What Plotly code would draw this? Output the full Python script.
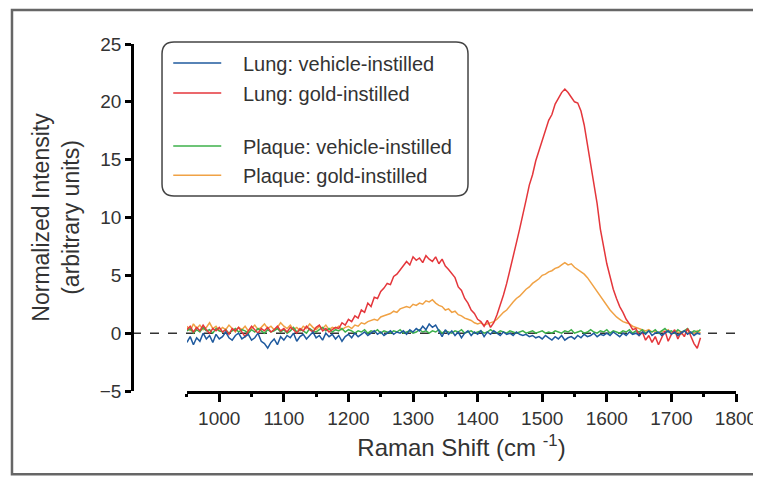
import plotly.graph_objects as go

# Raman shift grid (cm-1), 5 cm-1 steps
shift = list(range(950, 1750, 5))

lung_vehicle = [
    -0.8, -0.3, -1.0, -0.4, -0.7, 0.0, -0.5, -0.2, -0.8, -0.1,
    -0.5, -0.3, 0.1, -0.4, -0.6, -0.2, 0.0, -0.5, -0.3, -0.1,
    -0.6, -0.4, 0.0, -0.7, -0.9, -1.3, -0.8, -0.5, -1.0, -0.3,
    -0.6, -0.2, -0.4, 0.0, -0.7, -0.3, -0.1, -0.5, -0.2, 0.1,
    -0.4, -0.2, -0.6, 0.0, -0.3, -0.1, -0.5, -0.2, -0.7, -0.3,
    -0.1, -0.4, 0.0, -0.3, -0.1, 0.1, -0.2, 0.0, 0.2, -0.1,
    0.1, -0.2, 0.0, 0.2, -0.1, 0.1, 0.0, 0.2, -0.1, 0.3,
    0.1, 0.4, 0.2, 0.6, 0.3, 0.8, 0.5, 0.7, 0.2, -0.3,
    0.3, -0.1, 0.2, -0.2, 0.1, -0.4, 0.0, 0.2, -0.2, 0.1,
    -0.1, 0.2, -0.3, 0.1, -0.1, 0.2, 0.0, -0.2, 0.1, -0.1,
    0.0, -0.2, 0.1, -0.1, -0.2, -0.1, -0.3, -0.2, -0.4, -0.3,
    -0.5, -0.2, -0.4, -0.6, -0.3, -0.5, -0.2, -0.6, -0.4, -0.3,
    -0.5, -0.2, -0.4, -0.1, -0.3, -0.2, 0.0, -0.3, -0.1, -0.2,
    0.0, -0.2, 0.1, -0.1, -0.3, 0.0, -0.2, 0.1, -0.1, 0.0,
    -0.2, 0.1, -0.1, 0.2, -0.2, 0.0, 0.1, -0.2, 0.0, 0.2,
    -0.1, 0.1, -0.2, 0.0, 0.2, -0.1, 0.1, -0.2, 0.0, -0.1,
]

lung_gold = [
    0.3, 0.6, 0.1, 0.5, 0.2, 0.7, 0.3, 0.0, 0.4, 0.2,
    0.5, 0.1, 0.3, -0.1, 0.4, 0.2, 0.5, 0.1, -0.3, 0.2,
    0.6, 0.3, 0.0, 0.4, 0.2, 0.5, 0.1, 0.3, 0.6, 0.2,
    0.4, 0.1, 0.5, 0.3, 0.0, 0.4, 0.2, 0.6, 0.3, 0.1,
    0.5, 0.7, 0.2, 0.4, 0.1, 0.3, 0.5, 0.4, 0.9, 0.7,
    1.2, 1.0, 1.5, 1.3, 2.0, 1.8, 2.6, 2.3, 3.1, 3.0,
    3.6, 3.9, 4.3, 4.2, 4.9, 5.1, 5.5, 5.9, 6.2, 5.9,
    6.6, 6.3, 6.5, 6.1, 6.7, 6.4, 6.2, 6.6, 6.0, 6.4,
    5.8, 5.5, 5.1, 4.8, 4.0, 3.7, 3.0, 2.6, 2.0, 1.7,
    1.2, 1.0, 0.6, 1.1, 0.5, 0.9, 1.6, 2.4, 3.3, 4.3,
    5.4, 6.6, 7.8, 9.0, 10.4, 11.5, 12.8, 13.7, 14.9, 15.8,
    16.6, 17.4, 18.4, 18.9, 19.8, 20.3, 20.8, 21.1, 20.8, 20.4,
    20.0, 19.9, 19.2, 18.0, 16.3, 14.7, 12.8, 11.2, 9.0, 7.4,
    6.0, 4.9, 3.8, 3.0, 2.3, 1.8, 1.2, 0.8, 0.3, 0.4,
    -0.2, 0.1, -0.6, -0.2, -0.8, -0.3, -1.0, -0.4, 0.2, -0.7,
    -0.1, 0.3, -0.5, 0.1, -0.3, 0.4, -0.2, -0.9, -1.3, -0.4,
]

plaque_vehicle = [
    0.2, 0.4, 0.0, 0.3, 0.1, 0.5, 0.2, 0.3, 0.0, 0.4,
    0.2, 0.1, 0.3, 0.0, 0.2, 0.4, 0.1, 0.3, 0.2, 0.0,
    0.3, 0.1, 0.4, 0.2, 0.0, 0.3, 0.1, 0.2, 0.4, 0.1,
    0.3, 0.0, 0.2, 0.5, 0.1, 0.3, 0.2, 0.0, 0.4, 0.2,
    0.1, 0.3, 0.5, 0.2, 0.4, 0.1, 0.3, 0.2, 0.4, 0.1,
    0.3, 0.2, 0.0, 0.2, 0.1, 0.3, 0.0, 0.2, 0.1, 0.3,
    0.0, 0.2, 0.1, 0.0, 0.2, 0.1, 0.3, 0.0, 0.1, 0.2,
    0.0, 0.1, 0.3, 0.1, 0.2, 0.0, 0.2, 0.1, 0.3, 0.0,
    0.2, 0.1, 0.0, 0.2, 0.1, 0.3, 0.0, 0.1, 0.2, 0.0,
    0.1, 0.2, 0.0, 0.1, 0.3, 0.1, 0.0, 0.2, 0.1, 0.0,
    0.2, 0.1, 0.0, 0.1, 0.2, 0.0, 0.1, 0.2, 0.0, 0.1,
    0.2, 0.0, 0.1, 0.0, 0.2, 0.1, 0.0, 0.2, 0.1, 0.3,
    0.0, 0.1, 0.2, 0.0, 0.1, 0.3, 0.1, 0.0, 0.2, 0.1,
    0.3, 0.0, 0.2, 0.1, 0.0, 0.2, 0.1, 0.3, 0.0, 0.2,
    0.1, 0.3, 0.0, 0.2, 0.1, 0.3, 0.0, 0.2, 0.4, 0.1,
    0.2, 0.0, 0.3, 0.1, 0.2, 0.4, 0.0, 0.2, 0.1, 0.3,
]

plaque_gold = [
    0.6, 0.2, 0.8, 0.4, 0.7, 0.3, 0.5, 0.9, 0.4, 0.6,
    0.2, 0.5, 0.3, 0.7, 0.4, 0.1, 0.5, 0.3, 0.6, 0.2,
    0.4, 0.7, 0.3, 0.5, 0.8, 0.4, 0.6, 0.3, 0.5, 0.9,
    0.6, 0.4, 0.7, 0.3, 0.5, 0.2, 0.6, 0.4, 0.8, 0.5,
    0.3, 0.6, 0.4, 0.7, 0.3, 0.5, 0.4, 0.6, 0.3, 0.5,
    0.6, 0.4, 0.7, 0.6, 0.9, 0.8, 1.0, 1.1, 1.2, 1.1,
    1.4, 1.5, 1.6, 1.7, 1.9, 1.8, 2.1, 2.2, 2.3, 2.2,
    2.5, 2.4, 2.6, 2.5, 2.8, 2.7, 2.9, 2.6, 2.4, 2.3,
    2.0, 2.1, 1.8, 1.9, 1.6, 1.5, 1.3, 1.2, 1.1, 0.9,
    0.8, 0.9, 0.7, 0.8, 0.9, 1.0, 1.2, 1.5, 1.8, 2.0,
    2.4, 2.7, 3.0, 3.2, 3.5, 3.8, 4.0, 4.3, 4.5, 4.7,
    5.0, 5.1, 5.3, 5.4, 5.6, 5.7, 5.9, 6.1, 5.9, 6.0,
    5.7, 5.5, 5.3, 5.1, 4.8, 4.4, 4.0, 3.5, 3.1, 2.7,
    2.3, 2.0, 1.7, 1.4, 1.2, 1.0, 0.9, 0.8, 0.6, 0.5,
    0.4, 0.3, 0.2, 0.3, 0.1, 0.2, 0.0, 0.2, 0.1, 0.3,
    0.0, 0.2, 0.1, -0.1, 0.2, 0.0, 0.1, -0.1, 0.2, 0.0,
]

labels = ["Lung: vehicle-instilled", "Lung: gold-instilled",
          "Plaque: vehicle-instilled", "Plaque: gold-instilled"]
colors = ["#1f5a9e", "#e4363b", "#3cb04a", "#f0a245"]
series = [lung_vehicle, lung_gold, plaque_vehicle, plaque_gold]
legend_ids = ["legend", "legend2", "legend3", "legend4"]
legend_y = [0.945, 0.859, 0.706, 0.622]

FONT = "Arial, Liberation Sans, sans-serif"
TXT = "#333"

fig = go.Figure()
# drawing order: orange, green, red, blue on top
for k in [3, 2, 1, 0]:
    fig.add_trace(go.Scatter(
        x=shift, y=series[k], mode="lines",
        name="\u00a0\u00a0\u00a0" + labels[k],
        line=dict(color=colors[k], width=1.5),
        legend=legend_ids[k],
    ))

layout_legends = {}
for k in range(4):
    layout_legends[legend_ids[k]] = dict(
        x=0.06, y=legend_y[k], xanchor="left", yanchor="middle",
        bgcolor="rgba(0,0,0,0)", borderwidth=0, itemwidth=48,
        font=dict(family=FONT, size=20, color=TXT),
    )

# rounded legend frame (paper coords)
x0, x1, y0, y1 = 0.0497, 0.5563, 0.5620, 1.0058
rx, ry = 12 / 604, 12 / 347
frame = (f"M{x0+rx},{y1} L{x1-rx},{y1} Q{x1},{y1} {x1},{y1-ry} "
         f"L{x1},{y0+ry} Q{x1},{y0} {x1-rx},{y0} L{x0+rx},{y0} "
         f"Q{x0},{y0} {x0},{y0+ry} L{x0},{y1-ry} Q{x0},{y1} {x0+rx},{y1} Z")

# page body adds an 8px margin, so the figure is 8px smaller than the window
fig.update_layout(
    width=753, height=470,
    margin=dict(l=124, r=25, t=36, b=87),
    paper_bgcolor="white", plot_bgcolor="white",
    font=dict(family=FONT, size=19, color=TXT),
    showlegend=True,
    **layout_legends,
    xaxis=dict(
        domain=[0.091, 1], range=[950, 1800], dtick=100, automargin=False,
        showline=True, linecolor="black", linewidth=3,
        ticks="outside", ticklen=8, tickwidth=2.5, tickcolor="black",
        minor=dict(dtick=50, ticks="outside", ticklen=3, tickwidth=2.5, tickcolor="black"),
        showgrid=False, zeroline=False,
        tickfont=dict(size=19, color=TXT),
        title=dict(text="Raman Shift (cm <sup>-1</sup>)", font=dict(size=24, color=TXT), standoff=12),
    ),
    yaxis=dict(
        anchor="free", position=0, range=[-5, 25], dtick=5, automargin=False,
        showline=True, linecolor="black", linewidth=2.5,
        ticks="outside", ticklen=6, tickwidth=2.5, tickcolor="black",
        showgrid=False, zeroline=False,
        tickfont=dict(size=19, color=TXT),
        title=dict(text="Normalized Intensity<br>(arbitrary units)", font=dict(size=23, color=TXT), standoff=12),
    ),
    shapes=[
        dict(type="line", xref="paper", yref="y", x0=0, x1=1, y0=0, y1=0,
             line=dict(color="#333", width=1.5, dash="dash"), layer="below"),
        dict(type="path", xref="paper", yref="paper", path=frame,
             line=dict(color="#444", width=1.5)),
        dict(type="rect", xref="paper", yref="paper",
             x0=-0.1987, x1=1.0348, y0=-0.2400, y1=1.098,
             line=dict(color="#666", width=2.5)),
    ],
)

fig.write_html("out.html")
